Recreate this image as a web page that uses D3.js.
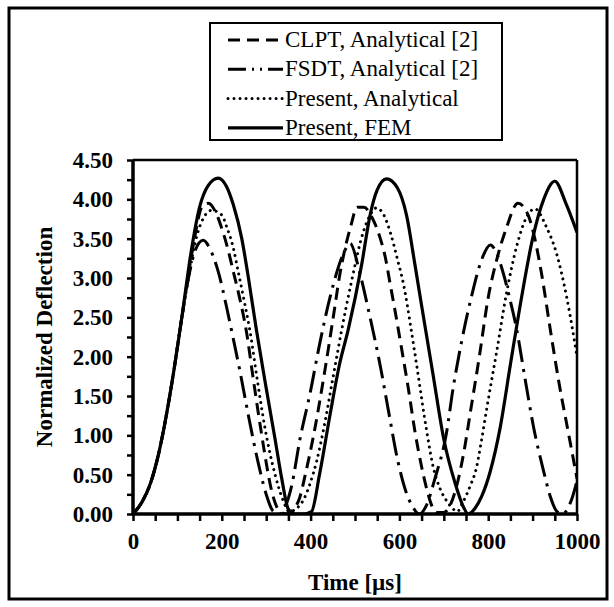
<!DOCTYPE html>
<html><head><meta charset="utf-8">
<script src="https://cdn.jsdelivr.net/npm/d3@7"></script>
<style>html,body{margin:0;padding:0;background:#fff;}svg{display:block;}</style>
</head><body>
<script>
// ---- data ----
const seriesNames = ["CLPT, Analytical [2]", "FSDT, Analytical [2]", "Present, Analytical", "Present, FEM"];

const clptT = [0,20,40,55,70,90,110,125,140,155,170,185,200,214,226,240,256,270,290,301,312,323,335,345,360,375,390,405,430,451,466,477,490,505,520,540,556,568,579,590,605,620,635,650,661,672,685,700,715,730,745,760,780,800,820,840,867,890,905,920,940,960,980,1000];
const clptV = [0,0.15,0.4,0.7,1.1,1.75,2.5,3.05,3.55,3.9,3.95,3.85,3.63,3.36,3.08,2.75,2.3,1.75,1.0,0.62,0.3,0.1,0.02,0.0,0.05,0.2,0.55,0.95,1.75,2.5,3.05,3.36,3.65,3.9,3.9,3.75,3.52,3.27,2.93,2.59,2.1,1.6,1.05,0.6,0.33,0.12,0.02,0.02,0.12,0.38,0.78,1.3,2.0,2.75,3.25,3.62,3.95,3.8,3.5,3.06,2.34,1.65,1.05,0.45];

const fsdtT = [0,20,40,55,70,90,110,125,140,158,175,194,210,225,240,260,282,300,315,330,345,357,376,399,420,444,474,489,511,530,558,577,597,615,631,645,660,680,706,721,740,763,785,805,820,834,848,864,883,902,925,940,955,967,980,990,1000];
const fsdtV = [0,0.15,0.4,0.7,1.1,1.75,2.5,3.0,3.35,3.48,3.35,3.04,2.65,2.25,1.84,1.25,0.65,0.25,0.04,0.0,0.12,0.35,0.95,1.54,2.15,2.76,3.31,3.44,3.06,2.6,1.85,1.26,0.66,0.28,0.08,0.0,0.1,0.45,1.03,1.6,2.19,2.78,3.23,3.42,3.3,3.06,2.75,2.35,1.72,1.11,0.54,0.22,0.03,0.0,0.08,0.22,0.42];

const presAnT = [0,20,40,55,70,90,110,125,140,155,177,200,211,226,237,250,263,280,297,320,339,352,368,384,399,414,430,450,470,490,519,534,548,565,580,595,610,625,640,661,676,691,706,720,730,744,759,774,785,800,819,841,864,887,905,931,954,977,1000];
const presAnV = [0,0.15,0.4,0.7,1.1,1.75,2.5,3.0,3.45,3.72,3.86,3.8,3.65,3.38,3.08,2.72,2.34,1.7,1.1,0.5,0.16,0.03,0.07,0.18,0.39,0.68,1.1,1.72,2.34,2.9,3.59,3.8,3.89,3.8,3.57,3.25,2.9,2.4,1.85,1.07,0.6,0.33,0.17,0.07,0.03,0.16,0.35,0.6,0.94,1.45,2.06,2.8,3.4,3.78,3.88,3.65,3.31,2.75,2.0];

const femT = [0,20,40,55,70,90,110,130,150,170,192,210,226,245,260,278,300,320,335,350,365,385,402,420,445,465,485,515,534,550,571,595,616,635,650,675,700,725,745,755,770,785,805,826,850,875,900,925,950,975,1000];
const femV = [0,0.15,0.4,0.7,1.1,1.75,2.5,3.3,3.9,4.18,4.27,4.17,3.93,3.5,3.0,2.34,1.6,0.95,0.45,0.06,0,0,0.03,0.5,1.3,1.9,2.35,3.17,3.8,4.12,4.26,4.15,3.8,3.17,2.65,1.8,0.95,0.4,0.08,0,0.07,0.22,0.55,1.07,1.9,2.75,3.5,4.0,4.23,3.95,3.58];

const xTickLabels = [0,200,400,600,800,1000];
const yTickLabels = [0,0.5,1,1.5,2,2.5,3,3.5,4,4.5];

// ---- layout ----
const W = 614, H = 607;
const svg = d3.select("body").append("svg").attr("width", W).attr("height", H);
svg.append("rect").attr("x",0).attr("y",0).attr("width",W).attr("height",H).attr("fill","#fff");
svg.append("rect").attr("x",9).attr("y",8).attr("width",598).attr("height",591)
  .attr("fill","none").attr("stroke","#000").attr("stroke-width",3);

const L = 133, R = 577, T = 160, B = 514;
const x = d3.scaleLinear().domain([0,1000]).range([L,R]);
const y = d3.scaleLinear().domain([0,4.5]).range([B,T]);

svg.append("defs").append("clipPath").attr("id","clip")
  .append("rect").attr("x",L).attr("y",T).attr("width",R-L).attr("height",B-T);

const styles = [
  {dash:"12 7", cap:"butt", w:3},
  {dash:"22 7 3 7", cap:"butt", w:3},
  {dash:"0.01 6.2", cap:"round", w:3},
  {dash:null, cap:"butt", w:3.2}
];
const series = [[clptT,clptV],[fsdtT,fsdtV],[presAnT,presAnV],[femT,femV]];

const line = d3.line().x(d=>x(d[0])).y(d=>y(d[1])).curve(d3.curveMonotoneX);
const g = svg.append("g").attr("clip-path","url(#clip)");
series.forEach((s,i)=>{
  const pts = s[0].map((t,j)=>[t,s[1][j]]);
  g.append("path").attr("d", line(pts)).attr("fill","none").attr("stroke","#000")
    .attr("stroke-width", styles[i].w).attr("stroke-linecap", styles[i].cap)
    .attr("stroke-linejoin","round")
    .attr("stroke-dasharray", styles[i].dash);
});

// frame top/right
svg.append("line").attr("x1",L).attr("x2",R).attr("y1",T).attr("y2",T).attr("stroke","#000").attr("stroke-width",2.5);
svg.append("line").attr("x1",R).attr("x2",R).attr("y1",T).attr("y2",B).attr("stroke","#000").attr("stroke-width",2.5);

// axes
const fmt = d3.format(".2f");
const yAxis = d3.axisLeft(y).tickValues(d3.range(0,4.51,0.25))
  .tickFormat(d => (Math.round(d*4)%2===0 && yTickLabels.some(v=>Math.abs(v-d)<1e-6)) ? fmt(d) : "")
  .tickSize(6).tickPadding(14);
const xAxis = d3.axisBottom(x).tickValues(d3.range(0,1001,50))
  .tickFormat(d => xTickLabels.includes(d) ? String(d) : "")
  .tickSize(7).tickPadding(12);

const ya = svg.append("g").attr("transform",`translate(${L},0)`).call(yAxis);
const xa = svg.append("g").attr("transform",`translate(0,${B})`).call(xAxis);
[ya,xa].forEach(a=>{
  a.select(".domain").attr("stroke","#000").attr("stroke-width",3.5);
  a.selectAll(".tick line").attr("stroke","#000").attr("stroke-width",2.5);
  a.selectAll(".tick text").attr("fill","#000")
    .style("font-family","'Liberation Serif','Times New Roman',serif")
    .style("font-weight","bold").style("font-size","23px");
});
ya.select(".domain").attr("d",`M0,${T}V${B}`);
xa.select(".domain").attr("d",`M${L},0H${R}`);

// axis titles
svg.append("text").attr("transform",`translate(52,${(T+B)/2}) rotate(-90)`)
  .attr("text-anchor","middle")
  .style("font-family","'Liberation Serif','Times New Roman',serif")
  .style("font-weight","bold").style("font-size","23px").text("Normalized Deflection");
svg.append("text").attr("x",(L+R)/2).attr("y",590).attr("text-anchor","middle")
  .style("font-family","'Liberation Serif','Times New Roman',serif")
  .style("font-weight","bold").style("font-size","23px").text("Time [µs]");

// legend
const lg = svg.append("g");
lg.append("rect").attr("x",210).attr("y",23).attr("width",292).attr("height",117)
  .attr("fill","#fff").attr("stroke","#000").attr("stroke-width",2);
seriesNames.forEach((name,i)=>{
  const by = 47 + i*29.3;
  lg.append("line").attr("x1",228).attr("x2",283).attr("y1",by-7).attr("y2",by-7)
    .attr("stroke","#000").attr("stroke-width",styles[i].w)
    .attr("stroke-linecap",styles[i].cap)
    .attr("stroke-dasharray", i===1 ? "18 6 2 6 2 6" : (i===2 ? "0.01 6" : styles[i].dash));
  lg.append("text").attr("x",285).attr("y",by)
    .style("font-family","'Liberation Serif','Times New Roman',serif")
    .style("font-size","23px").text(name);
});
</script>
</body></html>
